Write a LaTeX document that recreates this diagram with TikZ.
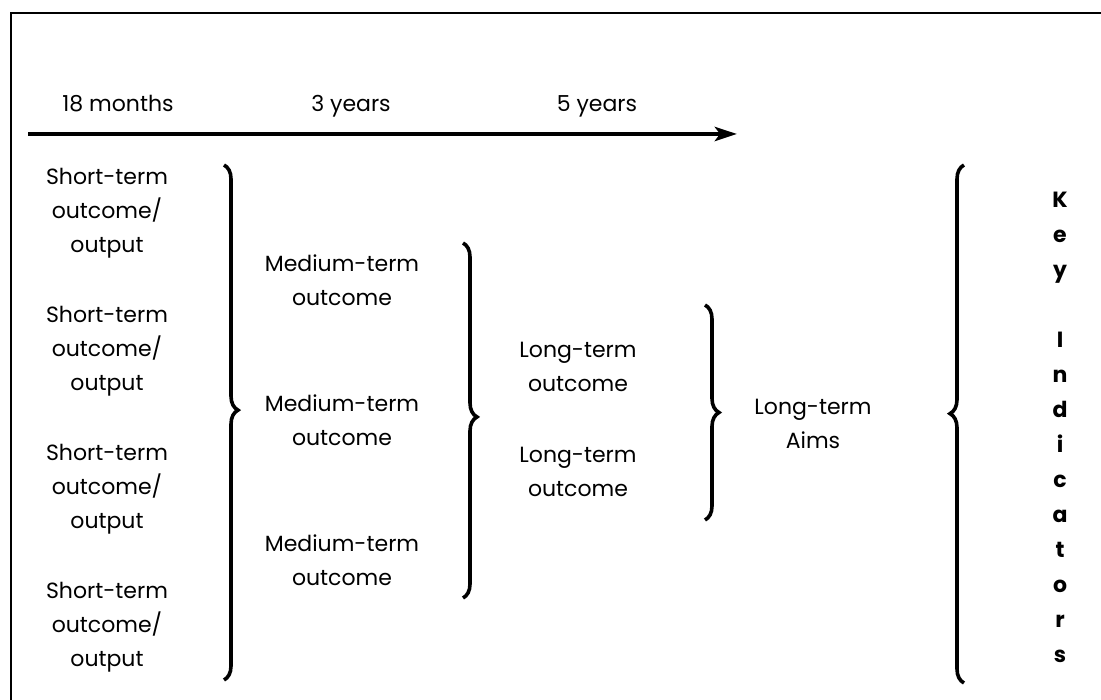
\documentclass[tikz,border=0pt]{standalone}
\usepackage{fontspec}
\setmainfont{Poppins}
\usetikzlibrary{positioning,arrows.meta,decorations.pathreplacing}

\tikzset{
  stage/.style={align=center, inner sep=0pt, font=\fontsize{22}{34}\selectfont},
  keyword/.style={align=center, inner sep=0pt, font=\fontsize{22}{35}\selectfont\bfseries},
  curly/.style={decorate, decoration={brace, amplitude=14pt, aspect=#1}, line width=3.6pt},
  curly/.default=0.5,
}

\begin{document}
\begin{tikzpicture}[x=1pt, y=1pt]
  \useasboundingbox (0,0) rectangle (1101,700);
  % frame
  \draw[line width=2.4pt] (11,-10) -- (11,687) -- (1120,687);

  % time line
  \coordinate (timeStart) at (28,566);
  \coordinate (timeEnd) at (737,566);
  \draw[line width=4.5pt, -{Stealth[length=22pt,width=14pt,inset=5pt]}] (timeStart) -- (timeEnd);
  \node[stage, anchor=base] (months) at (118,588) {18 months};
  \node[stage, anchor=base] (threeYears) at (351,588) {3 years};
  \node[stage, anchor=base] (fiveYears) at (597,588) {5 years};

  % outcomes (base = last line)
  \foreach \y [count=\i] in {447,309,171,33}
    \node[stage, anchor=base] (short\i) at (107,\y) {Short-term\\outcome/\\output};
  \foreach \y [count=\i] in {394,254,114}
    \node[stage, anchor=base] (medium\i) at (342,\y) {Medium-term\\outcome};
  \foreach \y [count=\i] in {308,203}
    \node[stage, anchor=base] (long\i) at (578,\y) {Long-term\\outcome};
  \node[stage, anchor=base] (aims) at (813,251) {Long-term\\Aims};
  \node[keyword, anchor=base] (indicators) at (1060,37)
    {K\\e\\y\\[35pt]I\\n\\d\\i\\c\\a\\t\\o\\r\\s};

  % braces
  \draw[curly=0.476] (224,535) -- (224,20);
  \draw[curly=0.49] (463,457) -- (463,102);
  \draw[curly=0.5] (705,395) -- (705,180);
  \draw[curly=0.52] (964,17) -- (964,535);
\end{tikzpicture}
\end{document}
